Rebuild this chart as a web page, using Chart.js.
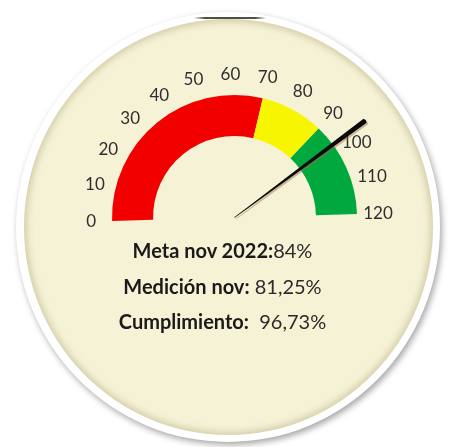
<!DOCTYPE html>
<html>
<head>
<meta charset="utf-8">
<script src="https://cdn.jsdelivr.net/npm/chart.js@4/dist/chart.umd.min.js"></script>
<style>
  html, body { margin:0; padding:0; background:#ffffff; }
  #wrap { position:relative; width:449px; height:447px; overflow:hidden; background:#fff; }
  #rim { position:absolute; left:16px; top:12px; width:424px; height:430px; border-radius:50%;
         background:#ffffff; box-shadow: 2px 3px 6px rgba(0,0,0,0.35); }
  #face { position:absolute; left:24px; top:19px; width:409px; height:416px; border-radius:50%;
          background:#f6f2d6;
          box-shadow: inset 0 0 6px 3px rgba(150,140,90,0.35); }
  #topline { position:absolute; left:194px; top:17px; width:72px; height:2px;
             background: linear-gradient(to right, rgba(60,60,50,0), rgba(60,60,50,0.9) 15%, rgba(60,60,50,0.9) 85%, rgba(60,60,50,0)); }
  canvas#c { position:absolute; left:0; top:0; }
  .info { position:absolute; left:-2px; width:449px; text-align:center; font-family: Lato, "Open Sans", sans-serif;
          font-size:20px; color:#1a1a1a; white-space:pre; }
  .info b { font-weight:700; }
  .info span { font-weight:400; color:#2a2a2a; }
</style>
</head>
<body>
<div id="wrap">
  <div id="rim"></div>
  <div id="face"></div>
  <div id="topline"></div>
  <canvas id="c" width="449" height="447"></canvas>
  <div class="info" id="l1" style="top:238px;"></div>
  <div class="info" id="l2" style="top:274px;"></div>
  <div class="info" id="l3" style="top:309px;"></div>
</div>
<script>
// ---- data ----
const categories = ['Bajo', 'Medio', 'Alto'];
const bandValues = [70, 20, 30];          // 0-70, 70-90, 90-120
const bandColors = ['#f20000', '#f7f500', '#00a83e'];
const tickLabels = ['0','10','20','30','40','50','60','70','80','90','100','110','120'];
const tickValues = [0,10,20,30,40,50,60,70,80,90,100,110,120];
const gaugeMax = 120;
const needleValue = 96.73;
const infoLabels = ['Meta nov 2022', 'Medición nov', 'Cumplimiento'];
const infoValues = ['84%', '81,25%', '96,73%'];
const infoSeparators = [':', ': ', ':  '];

// ---- info text ----
['l1','l2','l3'].forEach((id, i) => {
  const el = document.getElementById(id);
  el.innerHTML = '<b>' + infoLabels[i] + ':</b><span>' + infoSeparators[i].slice(1) + infoValues[i] + '</span>';
});

const tiltDeg = 1.64;
const gaugePlugin = {
  id: 'gaugeExtras',
  afterDatasetsDraw(chart) {
    const meta = chart.getDatasetMeta(0);
    const arc = meta.data[0];
    if (!arc) return;
    const cx = arc.x, cy = arc.y, R = arc.outerRadius;
    const start = chart.options.rotation * Math.PI / 180 - Math.PI / 2;
    const span = chart.options.circumference * Math.PI / 180;
    const ang = v => start + (v / gaugeMax) * span;
    const ctx = chart.ctx;
    // tick labels
    ctx.save();
    ctx.font = '17px Lato, "Open Sans", sans-serif';
    ctx.fillStyle = '#2e2e2e';
    ctx.textAlign = 'center';
    ctx.textBaseline = 'middle';
    const rl = R + 21;
    tickValues.forEach((v, i) => {
      const a = ang(v);
      ctx.fillText(tickLabels[i], cx + Math.cos(a) * rl, cy + Math.sin(a) * rl);
    });
    ctx.restore();
    // needle
    const a = ang(needleValue);
    const L = R + 40;
    const drawNeedle = (dx, dy, color) => {
      ctx.save();
      ctx.translate(cx + dx, cy + dy);
      ctx.rotate(a);
      ctx.beginPath();
      ctx.moveTo(0, -0.4);
      ctx.lineTo(L, -2.6);
      ctx.lineTo(L + 1, 0);
      ctx.lineTo(L, 2.6);
      ctx.lineTo(0, 0.4);
      ctx.closePath();
      ctx.fillStyle = color;
      ctx.fill();
      ctx.restore();
    };
    drawNeedle(1.5, 1.5, 'rgba(150,110,70,0.45)');
    drawNeedle(0, 0, '#0a0a0a');
  }
};

new Chart(document.getElementById('c'), {
  type: 'doughnut',
  data: {
    labels: categories,
    datasets: [{ data: bandValues, backgroundColor: bandColors, borderWidth: 0 }]
  },
  options: {
    responsive: false,
    animation: false,
    rotation: -90 - tiltDeg,
    circumference: 180,
    radius: 122.5,
    cutout: '66.5%',
    layout: { padding: { left: 104, right: 84, top: 100, bottom: 231 } },
    plugins: { legend: { display: false }, tooltip: { enabled: false } }
  },
  plugins: [gaugePlugin]
});
</script>
</body>
</html>
